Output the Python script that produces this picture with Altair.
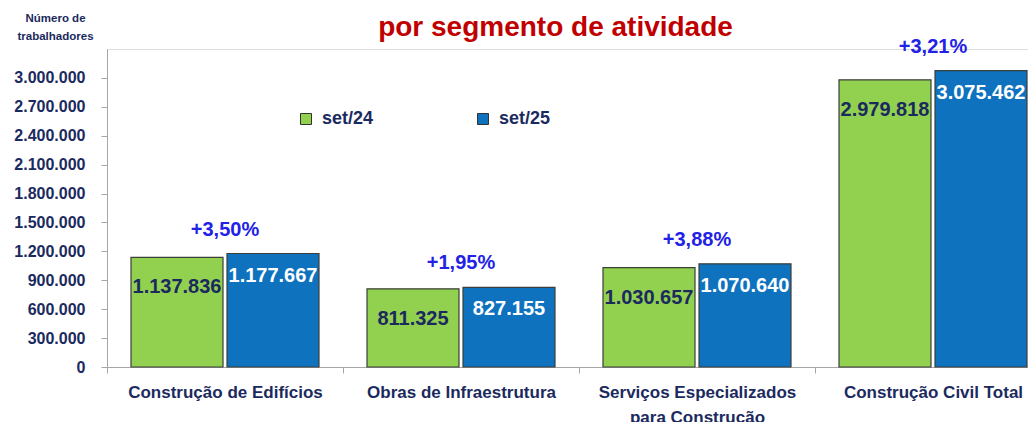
import altair as alt
import pandas as pd

categories = ["Construção de Edifícios", "Obras de Infraestrutura",
              "Serviços Especializados\npara Construção", "Construção Civil Total"]
periods = ["set/24", "set/25"]
set24 = [1137836, 811325, 1030657, 2979818]
set25 = [1177667, 827155, 1070640, 3075462]
y_ticks = [0, 300000, 600000, 900000, 1200000, 1500000, 1800000,
           2100000, 2400000, 2700000, 3000000]

GREEN = "#92D050"
BLUE = "#0E72BF"
NAVY = "#1B2A5E"
GRAY = "#A6A6A6"

rows = []
for c, a, b in zip(categories, set24, set25):
    rows.append({"cat": c, "period": periods[0], "value": a})
    rows.append({"cat": c, "period": periods[1], "value": b})
df = pd.DataFrame(rows)
pct = pd.DataFrame({
    "cat": categories,
    "value": [max(a, b) for a, b in zip(set24, set25)],
    "pct": [b / a - 1 for a, b in zip(set24, set25)],
})

x_enc = alt.X("cat:N", sort=categories,
              scale=alt.Scale(range=[0, 944], paddingInner=0, paddingOuter=0),
              axis=alt.Axis(title=None, labelAngle=0,
                            labelExpr="split(datum.label, '\\n')",
                            labelOverlap=False, labelLimit=400,
                            labelFontSize=17, labelFontWeight="bold",
                            labelColor=NAVY, labelPadding=11,
                            labelLineHeight=25,
                            tickBand="extent", tickSize=6, tickColor=GRAY,
                            domainColor=GRAY))
y_enc = alt.Y("value:Q",
              scale=alt.Scale(domain=[0, 3300000], nice=False),
              axis=alt.Axis(values=y_ticks, format=",d",
                            labelOverlap=False,
                            title=["Número de", "trabalhadores"],
                            titleAngle=0, titleAlign="center",
                            titleBaseline="top", titleX=-52, titleY=-37,
                            titleFontSize=11.5, titleFontWeight="bold",
                            titleColor=NAVY, titleLineHeight=18,
                            labelFontSize=16, labelFontWeight="bold",
                            labelColor=NAVY, labelPadding=16,
                            tickSize=6, tickColor=GRAY, domainColor=GRAY,
                            grid=False))
xo_enc = alt.XOffset("period:N", sort=periods,
                     scale=alt.Scale(paddingInner=0.0417, paddingOuter=0.25))

base = alt.Chart(df)

bars = base.mark_bar(stroke="#3A3F3A", strokeWidth=1.2).encode(
    x=x_enc, xOffset=xo_enc, y=y_enc,
    color=alt.Color("period:N",
                    scale=alt.Scale(domain=periods, range=[GREEN, BLUE]),
                    legend=alt.Legend(title=None, orient="none",
                                      legendX=190, legendY=61,
                                      direction="horizontal",
                                      symbolType="square", symbolSize=121,
                                      symbolStrokeColor="#333333",
                                      symbolStrokeWidth=1,
                                      labelFontSize=18, labelFontWeight="bold",
                                      labelColor=NAVY, labelOffset=7,
                                      columnPadding=100)),
)

lab24 = base.transform_filter(alt.datum.period == periods[0]).mark_text(
    baseline="middle", dy=30, fontSize=20, fontWeight="bold", color=NAVY
).encode(x=x_enc, xOffset=xo_enc, y=y_enc,
         text=alt.Text("value:Q", format=",d"))

lab25 = base.transform_filter(alt.datum.period == periods[1]).mark_text(
    baseline="middle", dy=22, fontSize=20, fontWeight="bold", color="white"
).encode(x=x_enc, xOffset=xo_enc, y=y_enc,
         text=alt.Text("value:Q", format=",d"))

pct_lab = alt.Chart(pct).mark_text(
    baseline="middle", dy=-24, fontSize=20, fontWeight="bold", color="#2222E6"
).encode(x=x_enc, y=y_enc,
         text=alt.Text("pct:Q", format="+.2%"))

chart = alt.layer(bars, lab24, lab25, pct_lab).properties(
    width=921, height=318,
    autosize=alt.AutoSizeParams(type="none"),
    padding={"left": 99, "top": 41, "right": 0, "bottom": 55},
    title=alt.TitleParams("por segmento de atividade", color="#C00000",
                          fontSize=28, fontWeight="bold", anchor="middle",
                          frame="group", dx=-12, dy=34),
).configure_view(stroke=None).configure(
    font="Liberation Sans",
    locale={"number": {"decimal": ",", "thousands": ".", "grouping": [3],
                       "currency": ["R$", ""]}},
)

chart.save("out.html", embed_options={"renderer": "svg", "actions": False})
